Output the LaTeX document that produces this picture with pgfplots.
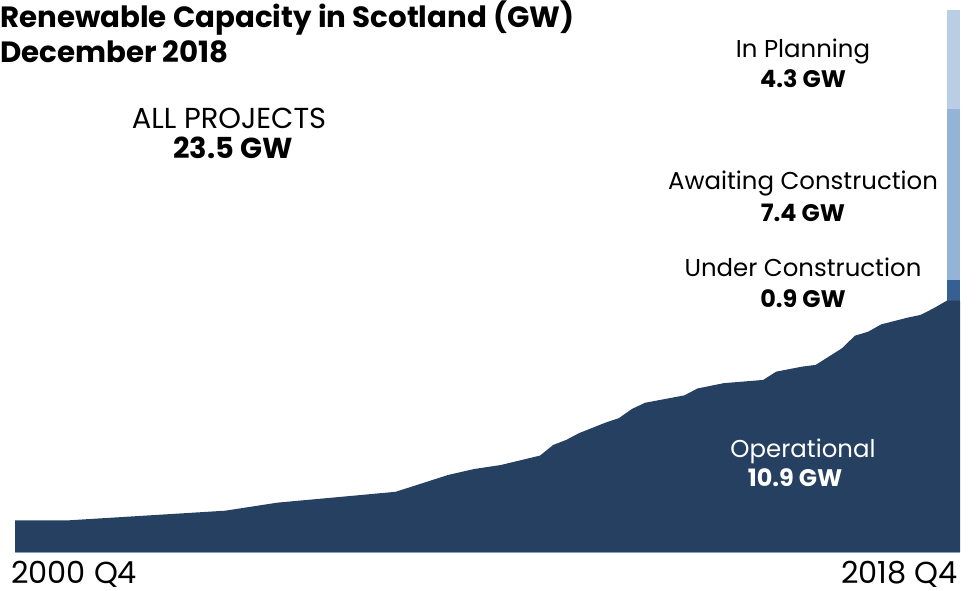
\documentclass[border=0pt]{standalone}
\usepackage{pgfplots}
\pgfplotsset{compat=1.18}
\usepackage{fontspec}
\setmainfont{Poppins}
\definecolor{opc}{HTML}{254061}
\definecolor{ucc}{HTML}{376092}
\definecolor{awc}{HTML}{95B3D7}
\definecolor{plc}{HTML}{B9CDE5}
\definecolor{axc}{HTML}{9AAAC0}
\newcommand{\lab}{\fontsize{24.5}{28}\selectfont}
\newcommand{\labb}{\fontsize{24}{28}\selectfont\bfseries}
\newcommand{\ttl}{\fontsize{29.4}{34}\selectfont\bfseries}
\begin{document}
\begin{tikzpicture}
\useasboundingbox (-15bp,-39bp) rectangle (962bp,552bp);
\begin{axis}[scale only axis, width=945bp, height=542bp,
  xmin=0, xmax=72, ymin=0, ymax=23.5,
  axis x line*=bottom, axis y line=none,
  xtick=\empty, ytick=\empty,
  x axis line style={draw=axc, line width=1.5bp, -},
  clip=false]
% stacked bar at 2018 Q4 (tops of cumulative segments: 10.9, +0.9, +7.4, +4.3)
\addplot[ybar, bar shift=0pt, bar width=1, fill=plc, draw=none] coordinates {(71.5,23.5)};
\addplot[ybar, bar shift=0pt, bar width=1, fill=awc, draw=none] coordinates {(71.5,19.2)};
\addplot[ybar, bar shift=0pt, bar width=1, fill=ucc, draw=none] coordinates {(71.5,11.8)};
\addplot[ybar, bar shift=0pt, bar width=1, fill=opc, draw=none] coordinates {(71.5,10.9)};
% operational capacity
\addplot[fill=opc, draw=none] coordinates {
(0,1.37) (4,1.37) (16,1.79) (20,2.14) (25,2.40) (29,2.61) (33,3.34) (35,3.60)
(37,3.77) (40,4.18) (41,4.64) (42,4.86) (43,5.16) (45,5.61) (46,5.80) (47,6.20)
(48,6.47) (51,6.79) (52,7.09) (54,7.32) (57,7.46) (58,7.82) (60,8.04) (61,8.11)
(63,8.83) (64,9.38) (65,9.55) (66,9.87) (68,10.16) (69,10.28) (70,10.57) (71,10.9) (72,10.9)
} \closedcycle;
\end{axis}
\node[anchor=base west, inner sep=0pt, font=\ttl] at (-15bp,524bp) {Renewable Capacity in Scotland (GW)};
\node[anchor=base west, inner sep=0pt, font=\ttl] at (-15bp,489bp) {December 2018};
\node[anchor=base, inner sep=0pt, font=\fontsize{29}{32}\selectfont] at (214bp,423bp) {ALL PROJECTS};
\node[anchor=base, inner sep=0pt, font=\fontsize{29}{32}\selectfont\bfseries] at (218bp,393bp) {23.5 GW};
\node[anchor=base, inner sep=0pt, font=\lab] at (788bp,494bp) {In Planning};
\node[anchor=base, inner sep=0pt, font=\labb] at (788bp,464bp) {4.3 GW};
\node[anchor=base, inner sep=0pt, font=\lab] at (788bp,362bp) {Awaiting Construction};
\node[anchor=base, inner sep=0pt, font=\labb] at (788bp,330bp) {7.4 GW};
\node[anchor=base, inner sep=0pt, font=\lab] at (788bp,275bp) {Under Construction};
\node[anchor=base, inner sep=0pt, font=\labb] at (788bp,244bp) {0.9 GW};
\node[anchor=base, inner sep=0pt, font=\lab, text=white] at (788bp,94bp) {Operational};
\node[anchor=base, inner sep=0pt, font=\labb, text=white] at (780bp,65bp) {10.9 GW};
\node[anchor=base west, inner sep=0pt, font=\fontsize{30.5}{33}\selectfont] at (-4bp,-31bp) {2000 Q4};
\node[anchor=base east, inner sep=0pt, font=\fontsize{30.5}{33}\selectfont] at (943bp,-31bp) {2018 Q4};
\end{tikzpicture}
\end{document}
